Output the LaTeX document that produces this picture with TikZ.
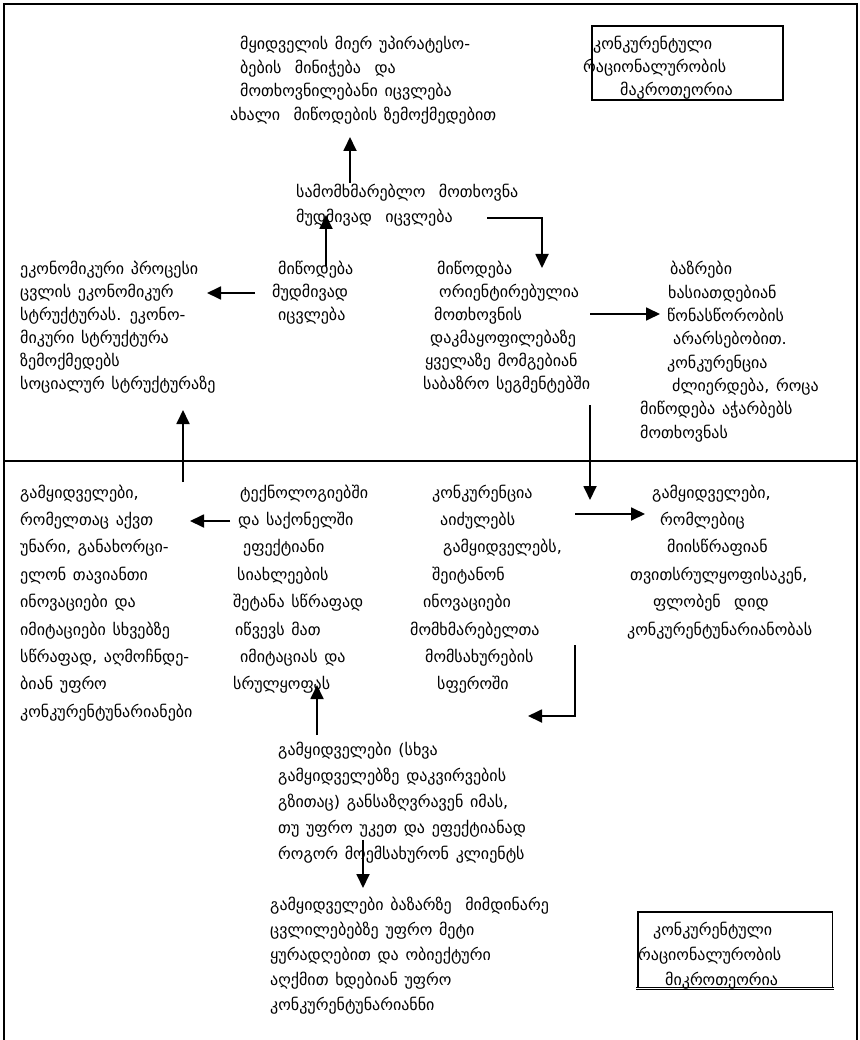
\documentclass[tikz,border=0pt]{standalone}
\usepackage{fontspec}
\setmainfont{DejaVu Sans}
\usetikzlibrary{arrows.meta}
\newcommand\blk[2]{\vtop{\fontsize{16}{18}\selectfont\spaceskip=0.42em plus 0.1em\relax\baselineskip=#1\lineskiplimit=-100pt\lineskip=0pt #2}}
\newcommand\gl[2][0]{\hbox{\kern#1pt #2}}
\tikzset{
  txt/.style={anchor=base west, inner sep=0pt},
  frame/.style={line width=2.2pt},
  arr/.style={line width=1.8pt, -{Triangle[length=14pt,width=13pt]}},
  tbox/.style={draw, line width=1.6pt, inner sep=0pt},
  ebox/.style={inner sep=0pt}
}
\begin{document}
\begin{tikzpicture}[x=1pt,y=-1pt]
\useasboundingbox (0,0) rectangle (859,1040);
% frame
\draw[frame] (4,1040) -- (4,4) -- (857,4) -- (857,1040);
\draw[frame] (4,461) -- (857,461);

% top right box
\node[tbox, minimum width=191pt, minimum height=74pt, anchor=north west] (macro) at (591,25) {};
\node[txt] (macrot) at (583,50) {\blk{23pt}{\gl[10]{კონკურენტული}\gl{რაციონალურობის}\gl[37]{მაკროთეორია}}};

% top section blocks
\node[txt] (A) at (230,50) {\blk{23.5pt}{\gl[10]{მყიდველის მიერ უპირატესო-}\gl[10]{ბების\ \ მინიჭება\ \ და}\gl[10]{მოთხოვნილებანი იცვლება}\gl{ახალი\ \ მიწოდების ზემოქმედებით}}};
\node[txt] (B) at (296,198) {\blk{25pt}{\gl{სამომხმარებლო\ \ მოთხოვნა}\gl{მუდმივად\ \ იცვლება}}};
\node[txt] (C) at (270,275) {\blk{23pt}{\gl[8]{მიწოდება}\gl[2]{მუდმივად}\gl[8]{იცვლება}}};
\node[txt] (D) at (20,275) {\blk{23pt}{\gl{ეკონომიკური პროცესი}\gl{ცვლის ეკონომიკურ}\gl{სტრუქტურას. ეკონო-}\gl{მიკური სტრუქტურა}\gl{ზემოქმედებს}\gl{სოციალურ სტრუქტურაზე}}};
\node[txt] (F) at (423,275) {\blk{23pt}{\gl[14]{მიწოდება}\gl[16]{ორიენტირებულია}\gl[11]{მოთხოვნის}\gl[7]{დაკმაყოფილებაზე}\gl[2]{ყველაზე მომგებიან}\gl{საბაზრო სეგმენტებში}}};
\node[txt] (G) at (640,275) {\blk{23.3pt}{\gl[30]{ბაზრები}\gl[28]{ხასიათდებიან}\gl[27]{წონასწორობის}\gl[33]{არარსებობით.}\gl[27]{კონკურენცია}\gl[32]{ძლიერდება, როცა}\gl{მიწოდება აჭარბებს}\gl{მოთხოვნას}}};

% bottom section blocks
\node[txt] (E) at (20,498) {\blk{27.4pt}{\gl{გამყიდველები,}\gl{რომელთაც აქვთ}\gl{უნარი, განახორცი-}\gl{ელონ თავიანთი}\gl{ინოვაციები და}\gl{იმიტაციები სხვებზე}\gl{სწრაფად, აღმოჩნდე-}\gl{ბიან უფრო}\gl{კონკურენტუნარიანები}}};
\node[txt] (H) at (233,498) {\blk{27.4pt}{\gl[7]{ტექნოლოგიებში}\gl[5]{და საქონელში}\gl[10]{ეფექტიანი}\gl[4]{სიახლეების}\gl{შეტანა სწრაფად}\gl[2]{იწვევს მათ}\gl[7]{იმიტაციას და}\gl{სრულყოფას}}};
\node[txt] (I) at (410,498) {\blk{27.4pt}{\gl[22]{კონკურენცია}\gl[30]{აიძულებს}\gl[33]{გამყიდველებს,}\gl[22]{შეიტანონ}\gl[13]{ინოვაციები}\gl{მომხმარებელთა}\gl[15]{მომსახურების}\gl[27]{სფეროში}}};
\node[txt] (J) at (627,498) {\blk{27.4pt}{\gl[25]{გამყიდველები,}\gl[33]{რომლებიც}\gl[40]{მიისწრაფიან}\gl[3]{თვითსრულყოფისაკენ,}\gl[26]{ფლობენ\ \ დიდ}\gl{კონკურენტუნარიანობას}}};
\node[txt] (K) at (278,755) {\blk{26pt}{\gl{გამყიდველები (სხვა}\gl{გამყიდველებზე დაკვირვების}\gl{გზითაც) განსაზღვრავენ იმას,}\gl{თუ უფრო უკეთ და ეფექტიანად}\gl{როგორ მოემსახურონ კლიენტს}}};
\node[txt] (L) at (270,910) {\blk{25pt}{\gl{გამყიდველები ბაზარზე\ \ მიმდინარე}\gl{ცვლილებებზე უფრო მეტი}\gl{ყურადღებით და ობიექტური}\gl{აღქმით ხდებიან უფრო}\gl{კონკურენტუნარიანნი}}};

% bottom right box (open-cornered, double bottom rule)
\node[ebox, minimum width=194pt, minimum height=76pt, anchor=north west] (micro) at (638,912) {};
\draw[line width=1.6pt] ([yshift=-2pt]micro.south west) -- (micro.north west) -- (micro.north east) -- ([yshift=-2pt]micro.south east);
\draw[line width=0.9pt, double, double distance=1.2pt] ([xshift=-2pt]micro.south west) -- ([xshift=2pt]micro.south east);
\node[txt] (microt) at (638,935) {\blk{25pt}{\gl[15]{კონკურენტული}\gl{რაციონალურობის}\gl[27]{მიკროთეორია}}};

% connector points
\coordinate (p1s) at (350,183); \coordinate (p1e) at (350,137);
\coordinate (p2a) at (487,218); \coordinate (p2b) at (542,218); \coordinate (p2e) at (542,268);
\coordinate (p3s) at (326,266); \coordinate (p3e) at (326,215);
\coordinate (p4s) at (255,293); \coordinate (p4e) at (207,293);
\coordinate (p5s) at (590,314); \coordinate (p5e) at (660,314);
\coordinate (p6s) at (183,482); \coordinate (p6e) at (183,410);
\coordinate (p7s) at (590,405); \coordinate (p7e) at (590,500);
\coordinate (p8s) at (230,521); \coordinate (p8e) at (190,521);
\coordinate (p9s) at (575,514); \coordinate (p9e) at (645,514);
\coordinate (p10a) at (575,645); \coordinate (p10b) at (575,716); \coordinate (p10e) at (528,716);
\coordinate (p11s) at (317,735); \coordinate (p11e) at (317,685);
\coordinate (p12s) at (363,840); \coordinate (p12e) at (363,888);

\draw[arr] (p1s) -- (p1e);
\draw[arr] (p2a) -- (p2b) -- (p2e);
\draw[arr] (p3s) -- (p3e);
\draw[arr] (p4s) -- (p4e);
\draw[arr] (p5s) -- (p5e);
\draw[arr] (p6s) -- (p6e);
\draw[arr] (p7s) -- (p7e);
\draw[arr] (p8s) -- (p8e);
\draw[arr] (p9s) -- (p9e);
\draw[arr] (p10a) -- (p10b) -- (p10e);
\draw[arr] (p11s) -- (p11e);
\draw[arr] (p12s) -- (p12e);
\end{tikzpicture}
\end{document}
